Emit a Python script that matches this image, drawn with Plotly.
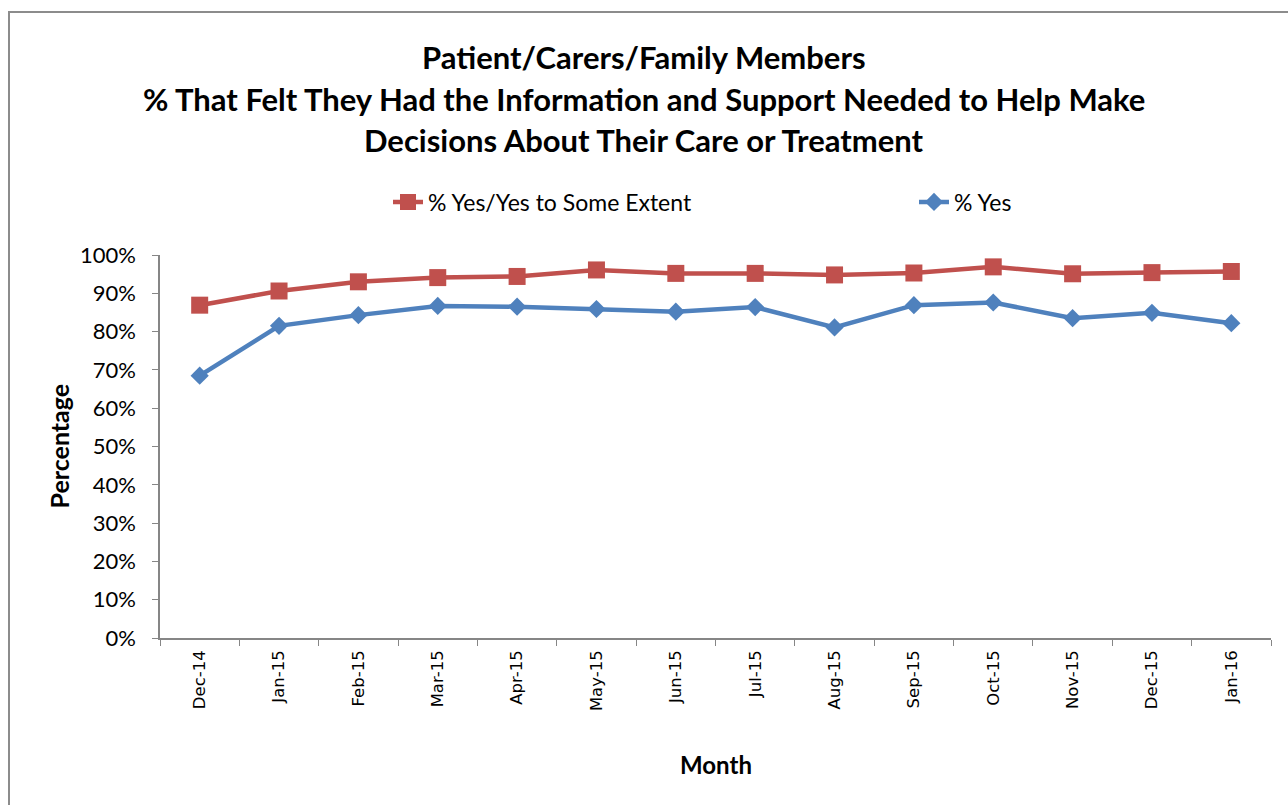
import plotly.graph_objects as go

months = ["Dec-14", "Jan-15", "Feb-15", "Mar-15", "Apr-15", "May-15", "Jun-15",
          "Jul-15", "Aug-15", "Sep-15", "Oct-15", "Nov-15", "Dec-15", "Jan-16"]
yes_some = [0.869, 0.906, 0.930, 0.941, 0.944, 0.961, 0.952,
            0.952, 0.948, 0.953, 0.969, 0.951, 0.954, 0.957]
yes_only = [0.685, 0.815, 0.843, 0.867, 0.865, 0.859, 0.852,
            0.864, 0.811, 0.869, 0.876, 0.835, 0.849, 0.822]
y_ticks = [i / 10 for i in range(11)]
y_tick_text = [f"{i * 10}%" for i in range(11)]

title_lines = ["Patient/Carers/Family Members",
               "% That Felt They Had the Information and Support Needed to Help Make",
               "Decisions About Their Care or Treatment"]

W, H = 1288, 805
L, R, T, B = 160, 17, 255, 167
pw, ph = W - L - R, H - T - B

def px_x(x):
    return (x - L) / pw

def px_y(y):
    return (H - B - y) / ph

fig = go.Figure()
fig.add_trace(go.Scatter(x=months, y=yes_some, name="% Yes/Yes to Some Extent",
                         mode="lines+markers", legend="legend",
                         line=dict(color="#C0504D", width=4.5),
                         marker=dict(symbol="square", size=17, color="#C0504D")))
fig.add_trace(go.Scatter(x=months, y=yes_only, name="% Yes",
                         mode="lines+markers", legend="legend2",
                         line=dict(color="#4F81BD", width=4.5),
                         marker=dict(symbol="diamond", size=14, color="#4F81BD")))

annotations = []
for txt, yc in zip(title_lines, [57, 99, 140]):
    annotations.append(dict(text=txt, xref="paper", yref="paper", x=px_x(644),
                            y=px_y(yc), xanchor="center", yanchor="middle", showarrow=False,
                            font=dict(family="Lato", size=31, color="black", weight="bold")))
annotations.append(dict(text="Percentage", xref="paper", yref="paper", x=px_x(58), y=0.5,
                        xanchor="center", yanchor="middle", textangle=-90, showarrow=False,
                        font=dict(family="Lato", size=25, color="black", weight="bold")))
annotations.append(dict(text="Month", xref="paper", yref="paper", x=0.5, y=px_y(764),
                        xanchor="center", yanchor="middle", showarrow=False,
                        font=dict(family="Lato", size=24, color="black", weight="bold")))

legend_style = dict(orientation="h", xanchor="left", yanchor="middle",
                    font=dict(family="Lato", size=23, color="black"),
                    bgcolor="rgba(0,0,0,0)", itemclick=False, itemdoubleclick=False)

fig.update_layout(
    width=W, height=H,
    margin=dict(l=L, r=R, t=T, b=B, pad=0),
    paper_bgcolor="white", plot_bgcolor="white",
    showlegend=True,
    legend=dict(x=px_x(388), y=px_y(202), **legend_style),
    legend2=dict(x=px_x(914), y=px_y(202), **legend_style),
    annotations=annotations,
    shapes=[dict(type="rect", xref="paper", yref="paper",
                 x0=px_x(9), x1=px_x(1300), y0=px_y(820), y1=px_y(12),
                 line=dict(color="#8C8C8C", width=2), fillcolor="rgba(0,0,0,0)", layer="below")],
)
fig.update_xaxes(type="category", showgrid=False, showline=True, linecolor="#868686", linewidth=1.5,
                 ticks="outside", ticklen=6, tickcolor="#868686", tickson="boundaries",
                 tickangle=-90, tickfont=dict(family="DejaVu Sans", size=16.5, color="black"),
                 ticklabelstandoff=4,
                 range=[-0.5, len(months) - 0.5], zeroline=False)
fig.update_yaxes(range=[0, 1], tickvals=y_ticks, ticktext=y_tick_text, showgrid=False,
                 showline=True, linecolor="#868686", linewidth=1.5, ticks="outside", ticklen=6,
                 tickcolor="#868686", tickfont=dict(family="Lato", size=22, color="black"),
                 ticklabelstandoff=12, zeroline=False)

fig.write_html("out.html")
